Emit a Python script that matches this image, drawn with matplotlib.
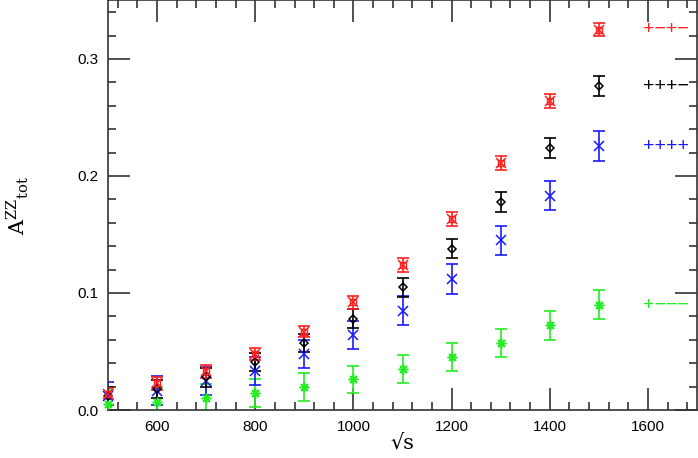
import numpy as np
import matplotlib
matplotlib.use('Agg')
import matplotlib.pyplot as plt
from matplotlib.ticker import MultipleLocator
from matplotlib.transforms import offset_copy

# sqrt(s) points
rs = [500, 600, 700, 800, 900, 1000, 1100, 1200, 1300, 1400, 1500]

# +-+-  (red)
a_red = [0.014, 0.023, 0.033, 0.048, 0.067, 0.092, 0.124, 0.163, 0.211, 0.264, 0.325]
e_red = [0.005, 0.0055, 0.0055, 0.005, 0.005, 0.0057, 0.0057, 0.0058, 0.0057, 0.0057, 0.0057]
# +++-  (black)
a_blk = [0.012, 0.018, 0.028, 0.041, 0.057, 0.078, 0.105, 0.138, 0.178, 0.224, 0.277]
e_blk = [0.0075, 0.0078, 0.008, 0.0075, 0.0078, 0.0079, 0.0081, 0.0084, 0.0085, 0.0085, 0.0085]
# ++++  (blue)
a_blu = [0.012, 0.0165, 0.025, 0.0336, 0.0476, 0.064, 0.085, 0.112, 0.145, 0.183, 0.226]
e_blu = [0.012, 0.0125, 0.012, 0.012, 0.012, 0.012, 0.0122, 0.0126, 0.0126, 0.0125, 0.0128]
# +---  (green)
a_grn = [0.005, 0.007, 0.010, 0.0143, 0.0194, 0.0262, 0.0348, 0.045, 0.0575, 0.0724, 0.090]
e_grn = [0.012, 0.012, 0.012, 0.012, 0.0118, 0.0113, 0.0118, 0.012, 0.012, 0.0122, 0.0122]

labels = ['+\u2212+\u2212', '+++\u2212', '++++', '+\u2212\u2212\u2212']
label_y = [0.325, 0.276, 0.225, 0.089]

red = '#ff2020'
blk = 'black'
blu = '#1a1aff'
grn = '#22ee22'

fig = plt.figure(figsize=(6.98, 4.58), dpi=100)
ax = fig.add_axes([0.1547, 0.1048, 0.8439, 0.8942])

series = [
    (a_grn, e_grn, grn, (8, 2, 0), 7),
    (a_blu, e_blu, blu, 'x', 7),
    (a_blk, e_blk, blk, 'D', 4),
    (a_red, e_red, red, 'x', 7),
]
for a, e, c, m, ms in series:
    ax.errorbar(rs, a, yerr=e, fmt='none', ecolor=c, elinewidth=1.2,
                capsize=4.3, capthick=1.2)
    if m == 'D':
        ax.plot(rs, a, ls='none', marker=m, ms=ms, mfc='none', mec=c,
                mew=1.1, clip_on=False, zorder=3)
    else:
        ax.plot(rs, a, ls='none', marker=m, ms=ms, color=c, mew=1.1,
                clip_on=False, zorder=3)
        if c == red:
            ax.plot(rs, a, ls='none', marker='s', ms=4, mfc='none', mec=c,
                    mew=1.0, clip_on=False, zorder=3)

# small nudge so the plus signs sit on the value
tr = offset_copy(ax.transData, fig=fig, x=0, y=0.5, units='points')
for lab, ly, c in zip(labels, label_y, [red, blk, blu, grn]):
    ax.text(1590, ly, lab, color=c, fontsize=14, family='Liberation Sans',
            ha='left', va='center', transform=tr)

ax.set_xlim(500, 1700)
ax.set_ylim(0, 0.35)
ax.xaxis.set_major_locator(MultipleLocator(200))
ax.xaxis.set_minor_locator(MultipleLocator(40))
ax.yaxis.set_major_locator(MultipleLocator(0.1))
ax.yaxis.set_minor_locator(MultipleLocator(0.02))
ax.tick_params(which='both', direction='in', top=True, right=True,
               width=1.2, colors='#333333', labelcolor='black')
ax.tick_params(which='major', length=16, labelsize=11, pad=7)
ax.tick_params(which='minor', length=6)
for lab in ax.get_xticklabels() + ax.get_yticklabels():
    lab.set_family('Liberation Sans')
ax.xaxis.set_major_formatter(plt.FuncFormatter(lambda v, p: '%d' % v))
ax.yaxis.set_major_formatter(plt.FuncFormatter(lambda v, p: '%.1f' % v))
for s in ax.spines.values():
    s.set_linewidth(1.2)
    s.set_color('#333333')

ax.set_xlabel('\u221as', fontsize=15, family='DejaVu Serif', labelpad=0)
ax.set_ylabel(r'$\mathregular{A^{ZZ}{}_{tot}}$', fontsize=15,
              family='DejaVu Serif', labelpad=33)

fig.savefig('out.png', dpi=100)
